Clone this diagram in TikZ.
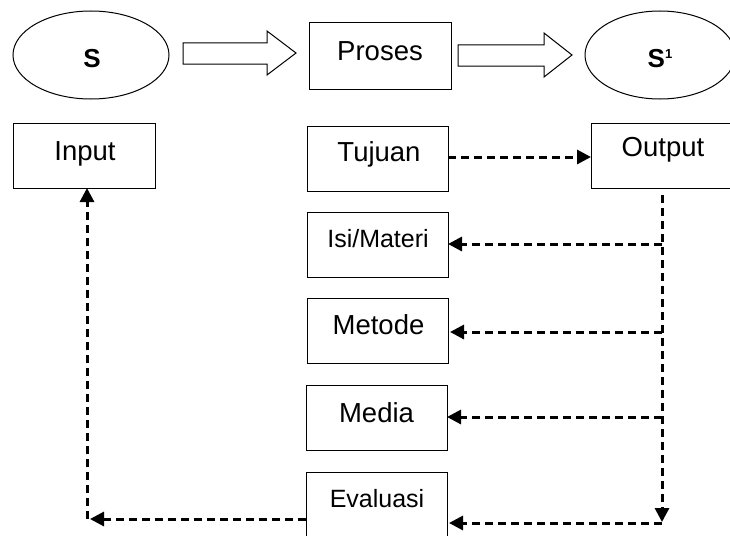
\documentclass[tikz,border=0pt]{standalone}
\usepackage{fontspec}
\setmainfont{Liberation Sans}
\usetikzlibrary{arrows.meta,shapes.geometric}
\begin{document}
\begin{tikzpicture}[x=1pt,y=-1pt,
  box/.style={draw, line width=1pt, minimum width=141pt, minimum height=65pt, inner sep=0pt, outer sep=0pt},
  lab/.style={anchor=base, inner sep=0pt, font=\fontsize{27.5}{30}\selectfont},
  slab/.style={anchor=base, inner sep=0pt, font=\fontsize{25}{28}\selectfont},
  ell/.style={draw, ellipse, line width=1pt, inner sep=0pt, outer sep=0pt},
  barrow/.style={draw, line width=1pt, line join=miter, fill=white},
  dline/.style={line width=3pt, dash pattern=on 8pt off 5pt},
  tip/.style={-{Triangle[length=14pt,width=14pt]}}
]
\useasboundingbox (0,0) rectangle (730,535);
\clip (0,0) rectangle (730,535);

% top row
\node[ell, minimum width=156pt, minimum height=88pt] (sell) at (91,55) {};
\node[inner sep=0pt, anchor=base, font=\fontsize{26}{28}\selectfont\bfseries] (stext) at (92,67) {S};
\node[box, minimum width=142pt, minimum height=66pt] (proses) at (380,56) {};
\node[lab] (prosestext) at (380,60) {Proses};
\node[ell, minimum width=150pt, minimum height=88pt] (s1ell) at (660,55) {};
\node[inner sep=0pt, anchor=base, font=\fontsize{26}{28}\selectfont\bfseries] (s1text) at (660,67) {S\raisebox{9pt}{\fontsize{13}{14}\selectfont 1}};

% block arrows
\draw[barrow] (183,43) -- (267,43) -- (267,31) -- (296,53) -- (267,75) -- (267,64) -- (183,64) -- cycle;
\draw[barrow] (458,45) -- (544,45) -- (544,33) -- (572,55) -- (544,77) -- (544,66) -- (458,66) -- cycle;

% boxes
\node[box, minimum width=142pt] (input) at (84,155.5) {};
\node[lab] (inputtext) at (85,160) {Input};
\node[box] (tujuan) at (377.5,158.5) {};
\node[lab] (tujuantext) at (379,161) {Tujuan};
\node[box] (output) at (661.5,155.5) {};
\node[lab] (outputtext) at (663,156.5) {Output};
\node[box] (isi) at (377.5,244.5) {};
\node[slab] (isitext) at (378,247) {Isi/Materi};
\node[box] (metode) at (377.5,330.5) {};
\node[lab] (metodetext) at (378.5,334) {Metode};
\node[box] (media) at (376.5,418) {};
\node[lab] (mediatext) at (376.5,422) {Media};
\node[box, minimum height=70pt] (eval) at (376.5,507) {};
\node[slab] (evaltext) at (377,507) {Evaluasi};

% coordinates
\coordinate (rtop) at (662,195);
\coordinate (rbot) at (662,522);
\coordinate (lb) at (87,519);

% dashed connectors
\draw[dline, tip] (tujuan.east |- 0,157) -- (output.west |- 0,157);
\draw[dline, tip] (rtop) -- (rbot);
\draw[dline, tip] (rtop |- 0,244) -- (isi.east |- 0,244);
\draw[dline, tip] (rtop |- 0,332) -- ([xshift=2pt]metode.east |- 0,332);
\draw[dline, tip] (rtop |- 0,417) -- (media.east |- 0,417);
\draw[dline, tip] (rbot |- 0,523) -- ([xshift=2pt]eval.east |- 0,523);
\draw[dline, tip] (eval.west |- lb) -- ([xshift=3pt]lb);
\draw[dline, tip] (lb) -- (lb |- input.south);
\end{tikzpicture}
\end{document}
